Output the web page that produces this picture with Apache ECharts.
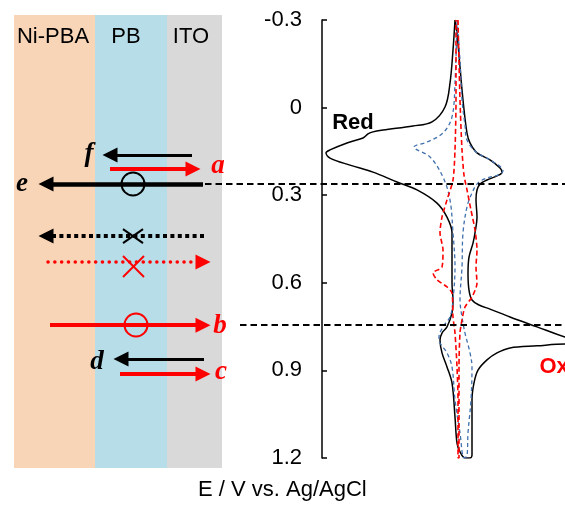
<!DOCTYPE html>
<html><head><meta charset="utf-8">
<script src="https://cdn.jsdelivr.net/npm/echarts@6/dist/echarts.min.js"></script>
<style>html,body{margin:0;padding:0;background:#fff}#c{width:565px;height:506px}</style>
</head><body><div id="c"></div>
<script>
// ================= DATA =================
// Potential axis ticks (V vs Ag/AgCl)
const potentialTicks = [-0.3, 0, 0.3, 0.6, 0.9, 1.2];

// CV loops: [current (a.u.), potential (V)]
const cvNiPbaPb = [
  [-1,-0.300],[1,-0.255],[4,-0.139],[7,-0.026],[11,0.087],[14,0.121],[21,0.155],[34,0.179],[44,0.207],[46,0.221],
  [41,0.234],[31,0.248],[24,0.262],[21,0.282],[20,0.316],[21,0.375],[19,0.429],[17,0.464],[13,0.512],[12,0.567],
  [13,0.625],[16,0.659],[23,0.676],[34,0.690],[54,0.717],[81,0.751],[109,0.786],[122,0.798],[130,0.805],[122,0.811],
  [109,0.810],[81,0.816],[54,0.823],[41,0.840],[31,0.864],[22,0.899],[18,0.943],[16,1.001],[16,1.060],[16,1.138],
  [16,1.190],[14,1.200],[9,1.200],[4,1.179],[1,1.149],[-1,1.060],[-4,0.943],[-9,0.888],[-14,0.840],[-16,0.796],
  [-14,0.772],[-9,0.751],[-4,0.703],[-3,0.659],[-4,0.601],[-4,0.488],[-4,0.429],[-9,0.375],[-19,0.327],[-39,0.282],
  [-59,0.255],[-83,0.221],[-106,0.197],[-126,0.173],[-130,0.155],[-126,0.145],[-109,0.121],[-93,0.104],[-88,0.090],[-84,0.084],
  [-73,0.077],[-43,0.063],[-24,0.049],[-11,-0.002],[-6,-0.084],[-3,-0.197],[-1,-0.300]
];
const cvPb = [
  [1,-0.300],[4,-0.163],[6,-0.026],[9,0.060],[11,0.111],[21,0.155],[34,0.179],[47,0.217],[42,0.231],[31,0.241],
  [22,0.258],[16,0.292],[11,0.340],[7,0.429],[6,0.546],[4,0.659],[6,0.717],[9,0.772],[14,0.840],[16,0.888],
  [15,1.001],[12,1.114],[11,1.193],[8,1.200],[4,1.114],[-1,1.001],[-4,0.888],[-9,0.840],[-16,0.806],[-17,0.786],
  [-13,0.751],[-6,0.717],[-3,0.659],[-1,0.546],[-3,0.429],[-6,0.316],[-13,0.238],[-26,0.169],[-42,0.135],[-29,0.118],
  [-13,0.087],[-4,0.032],[-1,-0.084],[1,-0.300]
];
const cvNiPba = [
  [2,-0.300],[4,-0.026],[6,0.145],[8,0.231],[11,0.282],[15,0.351],[19,0.419],[21,0.488],[20,0.546],[21,0.601],
  [16,0.649],[9,0.683],[6,0.727],[4,0.772],[3,0.888],[3,1.114],[3,1.200],[2,1.200],[2,1.001],[1,0.888],
  [-1,0.772],[-3,0.717],[-4,0.635],[-9,0.614],[-19,0.590],[-23,0.566],[-14,0.546],[-13,0.488],[-16,0.429],[-14,0.375],
  [-9,0.316],[-3,0.248],[-1,0.145],[0,-0.026],[0,-0.300]
];
const peakNames = ['Red', 'Ox'];
const peakPos = [[-103, 0.053], [83, 0.888]];

// Schematic (position across layer stack, potential level)
const layerNames = ['Ni-PBA', 'PB', 'ITO'];
const layerBounds = [[14, 95], [95, 167], [167, 222]];
const layerLabelPos = [[53, -0.242], [126, -0.242], [191, -0.242]];

const arrowFrom  = [192, 110, 203, 204, 48, 50, 204, 120];
const arrowTo    = [110, 193, 46, 46, 203, 203, 121, 203];
const arrowLevel = [0.162, 0.210, 0.262, 0.440, 0.529, 0.745, 0.861, 0.912];
const arrowKind  = ['k', 'r', 'kb', 'kd', 'rd', 'r', 'k', 'r'];

const letterNames = ['f', 'a', 'e', 'b', 'd', 'c'];
const letterPos = [[89, 0.160], [218, 0.200], [22, 0.262], [220, 0.748], [97, 0.871], [221, 0.905]];

const okMarks = [[133, 0.2617], [136, 0.7446]];       // circles
const noMarks = [[[123,0.416],[143,0.464]], [[123,0.464],[143,0.416]], [[123,0.508],[144,0.580]], [[123,0.580],[144,0.508]]];
const noKind = ['k', 'k', 'r', 'r'];

const guideLevels = [0.2617, 0.7446];
const guideFrom = [205, 240];
const guideTo = 565;

// ================= STYLES =================
const BLACK = '#000', RED = '#ff0000', BLUE = '#4070ad';
const bandColors = ['#f9d5b7', '#b7dde8', '#d9d9d9'];
const SANS = 'Liberation Sans, Arial, sans-serif';
const SERIF = 'Liberation Serif, Times New Roman, serif';
const arrowStyle = {
  k:  {color: BLACK, width: 3, type: 'solid'},
  r:  {color: RED, width: 4, type: 'solid'},
  kb: {color: BLACK, width: 4.5, type: 'solid'},
  kd: {color: BLACK, width: 4, type: [4, 3.4]},
  rd: {color: RED, width: 3.5, type: [0.1, 6.7], cap: 'round'}
};
const hiddenItem = {color: 'transparent', opacity: 1};
const plainLabel = {textBorderWidth: 0, textShadowBlur: 0};

const chart = echarts.init(document.getElementById('c'));
const SCH = {xAxisIndex: 1, yAxisIndex: 1};

const option = {
  animation: false,
  title: {
    text: 'E / V vs. Ag/AgCl', left: 198, top: 479, padding: 0,
    textStyle: {fontFamily: SANS, fontSize: 22, fontWeight: 'normal', color: BLACK}
  },
  grid: [
    {left: 322, right: 0, top: 20, bottom: 48},
    {left: 14, right: 0, top: 15, bottom: 38}
  ],
  xAxis: [
    {type: 'value', gridIndex: 0, min: -134, max: 109, show: false},
    {type: 'value', gridIndex: 1, min: 14, max: 565, show: false}
  ],
  yAxis: [
    {type: 'value', gridIndex: 0, inverse: true, min: potentialTicks[0], max: potentialTicks[potentialTicks.length-1], interval: 0.3,
     axisLine: {show: true, onZero: false, lineStyle: {color: BLACK, width: 1.5}},
     axisTick: {show: true, inside: true, length: 5, lineStyle: {color: BLACK, width: 1.5}},
     splitLine: {show: false},
     axisLabel: {color: BLACK, fontSize: 22, fontFamily: SANS, margin: 20,
       formatter: v => { const t = potentialTicks.find(p => Math.abs(p - v) < 1e-6); return t === undefined ? '' : String(t); }}},
    {type: 'value', gridIndex: 1, inverse: true, min: -0.3171, max: 1.2342, show: false}
  ],
  series: [
    // layer bands
    Object.assign({
      type: 'custom', z: 0, silent: true,
      data: layerBounds,
      renderItem: (params, api) => {
        const a = api.coord([api.value(0), -0.3171]);
        const b = api.coord([api.value(1), 1.2342]);
        return {type: 'rect', shape: {x: a[0], y: a[1], width: b[0] - a[0], height: b[1] - a[1]},
                style: {fill: bandColors[params.dataIndex]}};
      }
    }, SCH),
    // layer labels
    Object.assign({
      type: 'scatter', z: 3, silent: true, symbolSize: 1, itemStyle: hiddenItem,
      data: layerNames.map((n, i) => ({name: n, value: layerLabelPos[i]})),
      label: Object.assign({show: true, position: 'inside', formatter: '{b}', color: BLACK, fontSize: 22, fontFamily: SANS}, plainLabel)
    }, SCH),
    // guide dashed lines
    Object.assign({
      type: 'lines', coordinateSystem: 'cartesian2d', z: 4, silent: true,
      data: guideLevels.map((lv, i) => ({coords: [[guideFrom[i], lv], [guideTo, lv]]})),
      lineStyle: {color: BLACK, width: 2, type: [6.5, 4], opacity: 1}
    }, SCH),
    // arrows
    Object.assign({
      type: 'lines', coordinateSystem: 'cartesian2d', z: 5, silent: true,
      symbol: ['none', 'triangle'], symbolSize: 15,
      data: arrowFrom.map((x, i) => ({coords: [[x, arrowLevel[i]], [arrowTo[i], arrowLevel[i]]],
        lineStyle: Object.assign({opacity: 1}, arrowStyle[arrowKind[i]])}))
    }, SCH),
    // X marks
    Object.assign({
      type: 'lines', coordinateSystem: 'cartesian2d', z: 6, silent: true,
      data: noMarks.map((seg, i) => ({coords: seg, lineStyle: {color: noKind[i] === 'k' ? BLACK : RED, width: 2, opacity: 1}}))
    }, SCH),
    // circles
    Object.assign({
      type: 'scatter', z: 6, silent: true, symbol: 'circle', symbolSize: 23,
      data: okMarks.map((p, i) => ({value: p, itemStyle: {color: 'transparent', opacity: 1, borderColor: i === 0 ? BLACK : RED, borderWidth: 2}}))
    }, SCH),
    // letters
    Object.assign({
      type: 'scatter', z: 7, silent: true, symbolSize: 1, itemStyle: hiddenItem,
      data: letterNames.map((n, i) => ({name: n, value: letterPos[i],
        label: {color: ['a','b','c'].includes(n) ? RED : BLACK}})),
      label: Object.assign({show: true, position: 'inside', formatter: '{b}', fontSize: 27, fontFamily: SERIF,
              fontStyle: 'italic', fontWeight: 'bold'}, plainLabel)
    }, SCH),
    // CV curves
    {type: 'line', name: 'Ni-PBA/PB', xAxisIndex: 0, yAxisIndex: 0, z: 3, data: cvNiPbaPb, showSymbol: false, smooth: 0.35,
     lineStyle: {color: BLACK, width: 1.5}},
    {type: 'line', name: 'PB', xAxisIndex: 0, yAxisIndex: 0, z: 3, data: cvPb, showSymbol: false, smooth: 0.35,
     lineStyle: {color: BLUE, width: 1.3, type: [4, 3]}},
    {type: 'line', name: 'Ni-PBA', xAxisIndex: 0, yAxisIndex: 0, z: 3, data: cvNiPba, showSymbol: false, smooth: 0.25,
     lineStyle: {color: RED, width: 1.6, type: [5, 3]}},
    // peak labels
    {type: 'scatter', xAxisIndex: 0, yAxisIndex: 0, z: 8, silent: true, symbolSize: 1, itemStyle: hiddenItem,
     data: peakNames.map((n, i) => ({name: n, value: peakPos[i],
       label: {color: i === 0 ? BLACK : RED, position: i === 0 ? 'inside' : 'right', distance: 0}})),
     label: Object.assign({show: true, formatter: '{b}', fontSize: 22, fontWeight: 'bold', fontFamily: SANS}, plainLabel)}
  ]
};
chart.setOption(option);
</script>
</body></html>
